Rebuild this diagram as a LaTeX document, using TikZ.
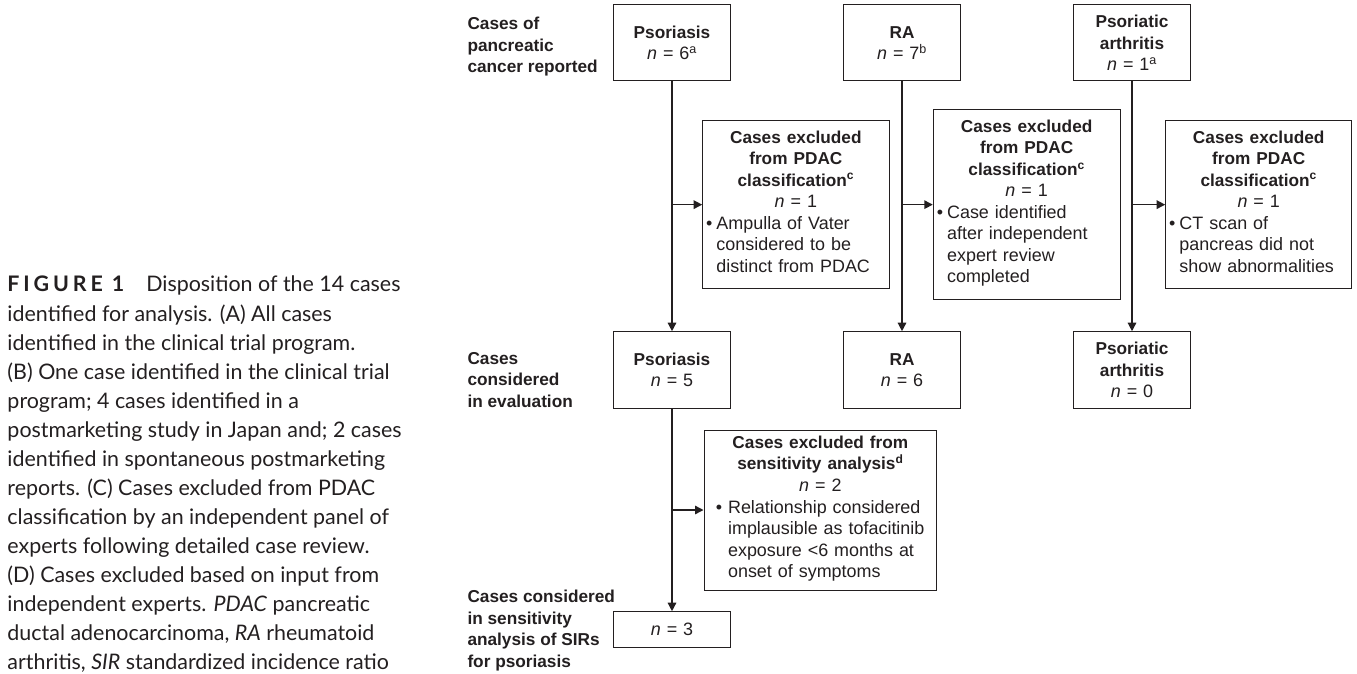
\documentclass[tikz,border=0pt]{standalone}
\usepackage{fontspec}
\setmainfont{Liberation Sans}
\newfontfamily\capfont{Lato}
\usetikzlibrary{arrows.meta}
\definecolor{ink}{RGB}{35,31,32}
\newcommand{\hd}{\fontsize{17.3}{21.6}\selectfont\bfseries}
\newcommand{\nn}[1]{\textit{n} = #1}
\newcommand{\bul}[3]{\makebox[\linewidth][l]{\hspace{#1}\begin{tabular}[t]{@{}l@{\hspace{#2}}l@{}}\textbullet & #3\end{tabular}}}
\tikzstyle{every node}=[inner sep=0pt,text=ink]
\tikzstyle{box}=[draw=ink,line width=1bp,align=center,inner xsep=3bp,font=\fontsize{18}{21.6}\selectfont]
\tikzstyle{flow}=[draw=ink,line width=1.4bp,-{Triangle[length=8.5bp,width=8.5bp]}]
\tikzstyle{side}=[anchor=north west,align=left,font=\hd]
\begin{document}
\begin{tikzpicture}[x=1bp,y=-1bp]
\useasboundingbox (0,0) rectangle (1357,674);
\node[anchor=north west,align=left,font=\capfont\fontsize{21.5}{29.15}\selectfont] (fig) at (7.3,276)
  {{\bfseries\addfontfeature{LetterSpace=18}FIGURE 1}\hspace{22bp}Disposition of the 14 cases\\
   identified for analysis. (A) All cases\\
   identified in the clinical trial program.\\
   (B) One case identified in the clinical trial\\
   program; 4 cases identified in a\\
   postmarketing study in Japan and; 2 cases\\
   identified in spontaneous postmarketing\\
   reports. (C) Cases excluded from PDAC\\
   classification by an independent panel of\\
   experts following detailed case review.\\
   (D) Cases excluded based on input from\\
   independent experts. \textit{PDAC} pancreatic\\
   ductal adenocarcinoma, \textit{RA} rheumatoid\\
   arthritis, \textit{SIR} standardized incidence ratio};
\node[side] (lblrep) at (467.3,17) {Cases of\\ pancreatic\\ cancer reported};
\node[side] (lbleval) at (467.3,352.2) {Cases\\ considered\\ in evaluation};
\node[side] (lblsens) at (467.3,590) {Cases considered\\ in sensitivity\\ analysis of SIRs\\ for psoriasis};
\node[box,text width=111.4bp,minimum height=76bp] (ps1) at (672,43) {{\hd Psoriasis}\\ \nn{6\textsuperscript{a}}};
\node[box,text width=111.4bp,minimum height=76bp] (ra1) at (902,43) {{\hd RA}\\ \nn{7\textsuperscript{b}}};
\node[box,text width=111.4bp,minimum height=76bp] (psa1) at (1132,43) {{\hd Psoriatic}\\ {\hd arthritis}\\ \nn{1\textsuperscript{a}}};
\node[box,text width=180.3bp,minimum height=167.3bp] (ex1) at (795.85,204.65)
  {{\hd Cases excluded}\\ {\hd from PDAC}\\ {\hd classification\textsuperscript{c}}\\ \nn{1}\\
   \bul{0.5bp}{4bp}{Ampulla of Vater\\ & considered to be\\ & distinct from PDAC}};
\node[box,text width=180.7bp,minimum height=189.3bp] (ex2) at (1026.65,204.65)
  {{\hd Cases excluded}\\ {\hd from PDAC}\\ {\hd classification\textsuperscript{c}}\\ \nn{1}\\
   \bul{0.5bp}{4bp}{Case identified\\ & after independent\\ & expert review\\ & completed}};
\node[box,text width=180bp,minimum height=167.3bp] (ex3) at (1258.7,204.65)
  {{\hd Cases excluded}\\ {\hd from PDAC}\\ {\hd classification\textsuperscript{c}}\\ \nn{1}\\
   \bul{0.5bp}{4bp}{CT scan of\\ & pancreas did not\\ & show abnormalities}};
\node[box,text width=111.4bp,minimum height=76.6bp] (ps2) at (672,370) {{\hd Psoriasis}\\ \nn{5}};
\node[box,text width=111.4bp,minimum height=76.6bp] (ra2) at (902,370) {{\hd RA}\\ \nn{6}};
\node[box,text width=111.4bp,minimum height=76.6bp] (psa2) at (1132,370) {{\hd Psoriatic}\\ {\hd arthritis}\\ \nn{0}};
\node[box,text width=226.7bp,minimum height=160bp] (exs) at (820.35,510)
  {{\hd Cases excluded from}\\ {\hd sensitivity analysis\textsuperscript{d}}\\ \nn{2}\\
   \bul{8.8bp}{6bp}{Relationship considered\\ & implausible as tofacitinib\\ & exposure <6 months at\\ & onset of symptoms}};
\node[box,text width=111.4bp,minimum height=36bp] (ps3) at (672,629.7) {\nn{3}};
\draw[flow] (ps1) -- (ps2);
\draw[flow] (ps1 |- ex1.west) -- (ex1);
\draw[flow] (ps2) -- (ps3);
\draw[flow] (ps2 |- exs.west) -- (exs);
\draw[flow] (ra1) -- (ra2);
\draw[flow] (ra1 |- ex2.west) -- (ex2);
\draw[flow] (psa1) -- (psa2);
\draw[flow] (psa1 |- ex3.west) -- (ex3);
\end{tikzpicture}
\end{document}
